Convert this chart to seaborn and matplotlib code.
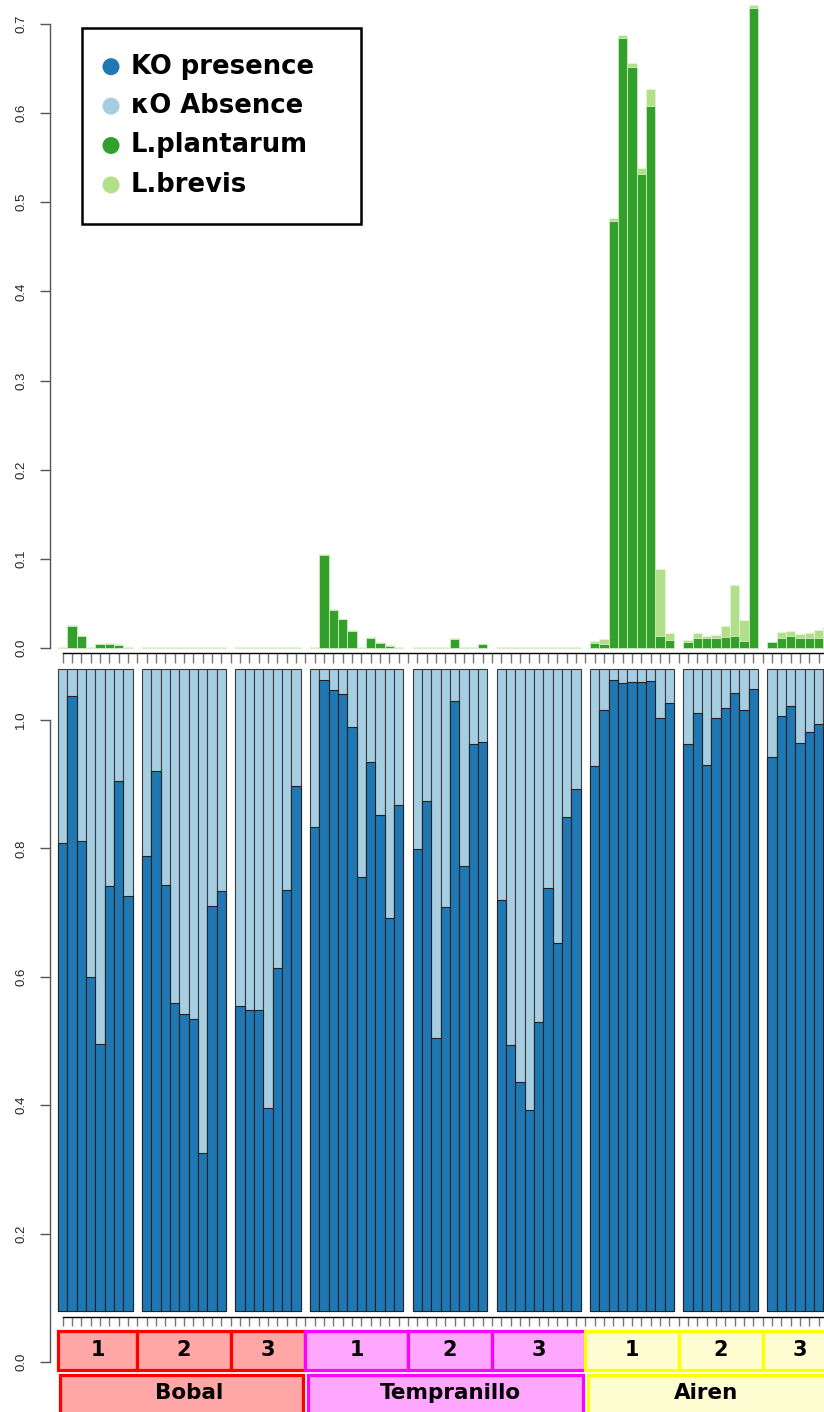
import numpy as np
import pandas as pd
import matplotlib
matplotlib.use("Agg")
import matplotlib.pyplot as plt
import seaborn as sns
from matplotlib.patches import Rectangle, Circle

# ---------------- data ----------------
varieties = ["Bobal", "Tempranillo", "Airen"]
replicates = ["1", "2", "3"]
group_sizes = [8, 9, 7, 10, 8, 9, 9, 8, 7]   # samples per variety x replicate

ko_presence = [
    # Bobal 1
    0.728, 0.957, 0.732, 0.519, 0.415, 0.662, 0.825, 0.646,
    # Bobal 2
    0.708, 0.841, 0.663, 0.479, 0.462, 0.454, 0.245, 0.630, 0.654,
    # Bobal 3
    0.475, 0.468, 0.469, 0.315, 0.533, 0.655, 0.817,
    # Tempranillo 1
    0.753, 0.983, 0.967, 0.960, 0.909, 0.676, 0.854, 0.772, 0.612, 0.787,
    # Tempranillo 2
    0.719, 0.794, 0.424, 0.628, 0.950, 0.693, 0.882, 0.885,
    # Tempranillo 3
    0.640, 0.413, 0.356, 0.312, 0.449, 0.659, 0.573, 0.769, 0.812,
    # Airen 1
    0.848, 0.936, 0.982, 0.977, 0.979, 0.979, 0.981, 0.923, 0.947,
    # Airen 2
    0.883, 0.931, 0.850, 0.923, 0.939, 0.962, 0.936, 0.968,
    # Airen 3
    0.862, 0.926, 0.942, 0.884, 0.901, 0.913, 0.905,
]

l_plantarum = [
    0.0, 0.025, 0.013, 0.0, 0.004, 0.005, 0.003, 0.0,
    0, 0, 0, 0, 0, 0, 0, 0, 0,
    0, 0, 0, 0, 0, 0, 0,
    0.0, 0.104, 0.043, 0.032, 0.019, 0.0, 0.011, 0.006, 0.002, 0.0,
    0, 0, 0, 0, 0.010, 0, 0, 0.004,
    0, 0, 0, 0, 0, 0, 0, 0, 0,
    0.006, 0.005, 0.479, 0.684, 0.652, 0.532, 0.608, 0.0135, 0.009,
    0.0067, 0.011, 0.011, 0.011, 0.0127, 0.014, 0.008, 0.718,
    0.0064, 0.011, 0.013, 0.0116, 0.011, 0.0116, 0.008,
]

l_brevis = [
    0.0015, 0.001, 0.0008, 0.0015, 0.001, 0.001, 0.0012, 0.0015,
    0.0015, 0.0015, 0.0015, 0.0015, 0.0015, 0.0015, 0.0015, 0.0015, 0.0015,
    0.0015, 0.0015, 0.0015, 0.0015, 0.0015, 0.0015, 0.0015,
    0.0015, 0.001, 0.001, 0.001, 0.0008, 0.0015, 0.001, 0.001, 0.001, 0.0015,
    0.0015, 0.0015, 0.0015, 0.0015, 0.001, 0.0015, 0.0015, 0.001,
    0.0015, 0.0015, 0.0015, 0.0015, 0.0015, 0.0015, 0.0015, 0.0015, 0.0015,
    0.0015, 0.005, 0.003, 0.004, 0.004, 0.006, 0.019, 0.075, 0.008,
    0.0023, 0.0059, 0.0026, 0.004, 0.012, 0.057, 0.023, 0.003,
    0.0007, 0.007, 0.006, 0.0044, 0.0058, 0.0084, 0.015,
]

# ---------------- styling ----------------
sns.set_style("white")
plt.rcParams["font.family"] = ["DejaVu Sans"]

C_PRES, C_ABS = "#1F78B4", "#A6CEE3"
C_PLA, C_BRE = "#33A02C", "#B2DF8A"
FILL = {"Bobal": "#FFA6A6", "Tempranillo": "#FFA6FF", "Airen": "#FFFDD2"}
EDGE = {"Bobal": "#FF0000", "Tempranillo": "#FF00FF", "Airen": "#FFFF00"}

# slot positions: one empty slot between replicate groups
slots, grp_bounds = [], []
pos = 0
for n in group_sizes:
    grp_bounds.append((pos, pos + n))
    slots.extend(range(pos, pos + n))
    pos += n + 1
n_slots = pos

df = pd.DataFrame({
    "slot": slots,
    "presence": ko_presence,
    "full": np.ones(len(slots)),
    "plantarum": l_plantarum,
    "green_total": np.array(l_plantarum) + np.array(l_brevis),
})

W, H = 824, 1412
fig = plt.figure(figsize=(W / 100, H / 100), dpi=100)
fig.patch.set_facecolor("white")

# pixel mapping: slot k centre at 62.67 + 9.333 k
PITCH = 9.333
X0 = 62.67
xl = ((50 - X0) / PITCH, (W - X0) / PITCH)

def fig_rect(left_px, top_px, right_px, bottom_px):
    return [left_px / W, 1 - bottom_px / H, (right_px - left_px) / W, (bottom_px - top_px) / H]

# ---------------- top panel ----------------
ax1 = fig.add_axes(fig_rect(50, 0, W, 660))
ax1.set_facecolor("none")
ppu1 = 891.4
sns.barplot(data=df, x="slot", y="green_total", native_scale=True, width=1.0,
            color=C_BRE, saturation=1, errorbar=None, ax=ax1,
            edgecolor="#e4f3d8", linewidth=0.6)
sns.barplot(data=df, x="slot", y="plantarum", native_scale=True, width=1.0,
            color=C_PLA, saturation=1, errorbar=None, ax=ax1,
            edgecolor="#d6edc4", linewidth=0.6)

# ---------------- bottom panel ----------------
ax2 = fig.add_axes(fig_rect(50, 665, W, H))
ax2.set_facecolor("none")
ppu2 = 642.0
OFFSET = 0.08
sns.barplot(data=df, x="slot", y="full", native_scale=True, width=1.0,
            color=C_ABS, saturation=1, errorbar=None, ax=ax2,
            edgecolor="#3a3a3a", linewidth=0.8, bottom=OFFSET)
sns.barplot(data=df, x="slot", y="presence", native_scale=True, width=1.0,
            color=C_PRES, saturation=1, errorbar=None, ax=ax2,
            edgecolor="#222222", linewidth=0.8, bottom=OFFSET)

# ---------------- axes decoration ----------------
for ax, ymax, step, ysep, ylims in [
        (ax1, 0.7, 0.1, -5 / ppu1, (-12 / ppu1, 648 / ppu1)),
        (ax2, 1.0, 0.2, 45 / ppu2, ((1362 - H) / ppu2, (1362 - 665) / ppu2))]:
    ax.set_xlabel("")
    ax.set_ylabel("")
    for s in ["top", "right"]:
        ax.spines[s].set_visible(False)
    ax.spines["left"].set_bounds(0, ymax)
    ax.spines["left"].set_color("#555555")
    ax.spines["left"].set_linewidth(1.0)
    yt = np.round(np.arange(0, ymax + 1e-9, step), 2)
    ax.set_yticks(yt)
    ax.set_yticklabels([f"{v:.1f}" for v in yt], rotation=90, va="center",
                       fontsize=9.5, family=["Liberation Sans", "DejaVu Sans"])
    ax.tick_params(axis="y", direction="out", length=7.5, width=1.0,
                   color="#555555", pad=9, left=True)
    # slot tick line
    ax.spines["bottom"].set_position(("data", ysep))
    ax.spines["bottom"].set_bounds(0, n_slots + 2)
    ax.spines["bottom"].set_color("black")
    ax.spines["bottom"].set_linewidth(1.0)
    ax.set_xticks(np.arange(0, n_slots + 3))
    ax.set_xticklabels([])
    ax.tick_params(axis="x", direction="out", length=7.0 if ax is ax1 else 6.5,
                   width=1.0, color="#777777", bottom=True)
    ax.set_xlim(*xl)
    ax.set_ylim(*ylims)

# ---------------- group boxes ----------------
y_num_top, y_num_bot = (1362 - 1330.7) / ppu2, (1362 - 1370) / ppu2
y_var_top, y_var_bot = (1362 - 1375) / ppu2, (1362 - 1440) / ppu2
y_num_txt = (1362 - 1350) / ppu2
y_var_txt = (1362 - 1393) / ppu2
var_text_shift = {"Bobal": 0.8, "Tempranillo": 0.6, "Airen": -0.6}

gi = 0
for vi, var in enumerate(varieties):
    lefts, rights = [], []
    for ri, rep in enumerate(replicates):
        a, b = grp_bounds[gi]
        left = a - 0.5 - (0.5 if gi > 0 else 0.0)
        right = b - 0.5 + 0.5
        lefts.append(left)
        rights.append(right)
        ax2.add_patch(Rectangle((left, y_num_bot), right - left, y_num_top - y_num_bot,
                                facecolor=FILL[var], edgecolor=EDGE[var], linewidth=2.3,
                                clip_on=False, zorder=3))
        ax2.text((left + right) / 2, y_num_txt, rep, ha="center", va="center",
                 fontsize=15, fontweight="bold", color="black", zorder=4, clip_on=False)
        gi += 1
    vl, vr = lefts[0] + 0.25, rights[-1] - 0.25
    ax2.add_patch(Rectangle((vl, y_var_bot), vr - vl, y_var_top - y_var_bot,
                            facecolor=FILL[var], edgecolor=EDGE[var], linewidth=2.3,
                            clip_on=False, zorder=3))
    ax2.text((vl + vr) / 2 + var_text_shift[var], y_var_txt, var, ha="center", va="center",
             fontsize=15.5, fontweight="bold", color="black", zorder=4, clip_on=False)

# ---------------- legend (pixel overlay) ----------------
ov = fig.add_axes([0, 0, 1, 1])
ov.set_xlim(0, W)
ov.set_ylim(H, 0)
ov.axis("off")
ov.set_facecolor("none")
ov.add_patch(Rectangle((82, 28), 279.5, 196, facecolor="white", edgecolor="black",
                       linewidth=1.8, zorder=5))
legend_labels = ["KO presence", "\u03baO Absence", "L.plantarum", "L.brevis"]
legend_colors = [C_PRES, C_ABS, C_PLA, C_BRE]
for i, (lab, col) in enumerate(zip(legend_labels, legend_colors)):
    yc = 66.7 + i * 39.4
    ov.add_patch(Circle((111, yc), 8.5, facecolor=col, edgecolor="none", zorder=6))
    ov.text(131, yc, lab, ha="left", va="center", fontsize=18.6, fontweight="bold",
            color="black", zorder=6)

fig.savefig("out.png", dpi=100)
